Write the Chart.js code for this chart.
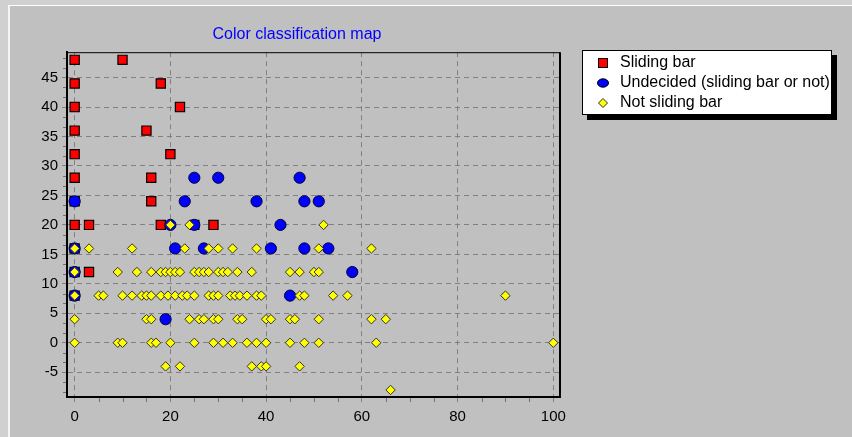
<!DOCTYPE html>
<html>
<head>
<meta charset="utf-8">
<script src="https://cdn.jsdelivr.net/npm/chart.js@4.4.1/dist/chart.umd.min.js"></script>
<style>
  html, body { margin: 0; padding: 0; background: #d0d0d0; }
  #wrap { position: relative; width: 852px; height: 437px; overflow: hidden; background: #d0d0d0; }
  #frame { position: absolute; left: 8px; top: 5px; width: 860px; height: 450px; background: #c0c0c0;
           border-top: 1px solid #ffffff; border-left: 2px solid #f4f4f4; }
  canvas { position: absolute; left: 0; top: 0; }
</style>
</head>
<body>
<div id="wrap">
  <div id="frame"></div>
  <canvas id="chart" width="852" height="437"></canvas>
</div>
<script>
var seriesNames = ['Sliding bar', 'Undecided (sliding bar or not)', 'Not sliding bar'];
var xTicks = [0, 20, 40, 60, 80, 100];
var yTicks = [-5, 0, 5, 10, 15, 20, 25, 30, 35, 40, 45];

// Sliding bar (red squares)
var slidingX = [0, 10, 0, 18, 0, 22, 0, 15, 0, 20, 0, 16, 0, 16, 0, 3, 18, 25, 29, 0, 0, 3, 0];
var slidingY = [48, 48, 44, 44, 40, 40, 36, 36, 32, 32, 28, 28, 24, 24, 20, 20, 20, 20, 20, 16, 12, 12, 8];

// Undecided (blue circles)
var undecidedX = [25, 30, 47, 0, 23, 38, 48, 51, 20, 25, 43, 0, 21, 27, 41, 48, 53, 0, 58, 0, 45, 19];
var undecidedY = [28, 28, 28, 24, 24, 24, 24, 24, 20, 20, 20, 16, 16, 16, 16, 16, 16, 12, 12, 8, 8, 4];

// Not sliding bar (yellow diamonds), one line per row
var notSlidingX = [
  20, 24, 52,
  0, 3, 12, 23, 28, 30, 33, 38, 51, 62,
  0, 9, 13, 16, 18, 19, 20, 21, 22, 25, 26, 27, 28, 30, 31, 32, 34, 37, 45, 47, 50, 51,
  0, 5, 6, 10, 12, 14, 15, 16, 18, 19.5, 21, 22.5, 23.5, 25, 28, 29, 30, 32.5, 33.5, 34.5, 36, 38, 39, 47, 48, 54, 57, 90,
  0, 15, 16, 24, 26, 27, 29, 30, 34, 35, 40, 41, 45, 46, 51, 62, 65,
  0, 9, 10, 16, 17, 20, 25, 29, 31, 33, 36, 38, 40, 45, 48, 51, 63, 100,
  19, 22, 37, 39, 40, 47,
  66
];
var notSlidingY = [
  20, 20, 20,
  16, 16, 16, 16, 16, 16, 16, 16, 16, 16,
  12, 12, 12, 12, 12, 12, 12, 12, 12, 12, 12, 12, 12, 12, 12, 12, 12, 12, 12, 12, 12, 12,
  8, 8, 8, 8, 8, 8, 8, 8, 8, 8, 8, 8, 8, 8, 8, 8, 8, 8, 8, 8, 8, 8, 8, 8, 8, 8, 8, 8,
  4, 4, 4, 4, 4, 4, 4, 4, 4, 4, 4, 4, 4, 4, 4, 4, 4,
  0, 0, 0, 0, 0, 0, 0, 0, 0, 0, 0, 0, 0, 0, 0, 0, 0, 0,
  -4, -4, -4, -4, -4, -4,
  -8
];

function toPoints(xs, ys) {
  return xs.map(function (x, i) { return { x: x, y: ys[i] }; });
}

var FONT = 'Liberation Sans, Arial, sans-serif';

// top + right frame of the plot box, minor ticks
var framePlugin = {
  id: 'frame',
  beforeDatasetsDraw: function (chart) {
    var ctx = chart.ctx, a = chart.chartArea, sx = chart.scales.x, sy = chart.scales.y;
    ctx.save();
    ctx.strokeStyle = '#000';
    ctx.lineWidth = 1;
    ctx.beginPath();
    ctx.moveTo(a.left, a.top + 0.5);
    ctx.lineTo(a.right, a.top + 0.5);
    ctx.stroke();
    ctx.lineWidth = 2;
    ctx.beginPath();
    ctx.moveTo(a.right, a.top);
    ctx.lineTo(a.right, a.bottom);
    ctx.stroke();

    ctx.strokeStyle = '#707070';
    ctx.lineWidth = 1;
    ctx.beginPath();
    for (var v = 5; v < 100; v += 5) {
      if (v % 20 === 0) continue;
      var px = Math.round(sx.getPixelForValue(v)) + 0.5;
      ctx.moveTo(px, a.bottom + 1);
      ctx.lineTo(px, a.bottom + 5);
    }
    for (var k = -10; k <= 45; k += 5) {
      [5 / 3, 10 / 3].forEach(function (f) {
        var val = k + f;
        if (val <= sy.min || val >= sy.max) return;
        var py = Math.round(sy.getPixelForValue(val)) + 0.5;
        ctx.moveTo(a.left - 4, py);
        ctx.lineTo(a.left - 1, py);
      });
    }
    ctx.stroke();
    ctx.restore();
  }
};

// boxed legend with drop shadow
var legendPlugin = {
  id: 'boxLegend',
  afterDraw: function (chart) {
    var ctx = chart.ctx;
    var bx = 582, by = 50, bw = 250, bh = 65;
    ctx.save();
    ctx.fillStyle = '#000';
    ctx.fillRect(bx + 5, by + 5, bw, bh);
    ctx.fillStyle = '#fff';
    ctx.fillRect(bx, by, bw, bh);
    ctx.strokeStyle = '#000';
    ctx.lineWidth = 1;
    ctx.strokeRect(bx + 0.5, by + 0.5, bw - 1, bh - 1);

    var ds = chart.data.datasets;
    var mx = 603;
    var rows = [63, 83, 103];
    // square
    ctx.fillStyle = ds[0].backgroundColor;
    ctx.fillRect(mx - 4.5, rows[0] - 4.5, 9, 9);
    ctx.strokeRect(mx - 4.5, rows[0] - 4.5, 9, 9);
    // rounded blob
    ctx.fillStyle = ds[1].backgroundColor;
    ctx.beginPath();
    ctx.ellipse(mx, rows[1], 5.5, 4.2, 0, 0, Math.PI * 2);
    ctx.fill();
    ctx.stroke();
    // diamond
    ctx.fillStyle = ds[2].backgroundColor;
    ctx.beginPath();
    ctx.moveTo(mx, rows[2] - 4.5);
    ctx.lineTo(mx + 4.5, rows[2]);
    ctx.lineTo(mx, rows[2] + 4.5);
    ctx.lineTo(mx - 4.5, rows[2]);
    ctx.closePath();
    ctx.fill();
    ctx.strokeStyle = ds[2].borderColor;
    ctx.stroke();

    ctx.fillStyle = '#000';
    ctx.font = '16px ' + FONT;
    ctx.textBaseline = 'middle';
    ctx.textAlign = 'left';
    ds.forEach(function (d, i) { ctx.fillText(d.label, 620, rows[i]); });
    ctx.restore();
  }
};

new Chart(document.getElementById('chart').getContext('2d'), {
  type: 'scatter',
  data: {
    datasets: [{
      label: seriesNames[0],
      data: toPoints(slidingX, slidingY),
      pointStyle: 'rect',
      pointRadius: 6.5,
      backgroundColor: '#ff0000',
      borderColor: '#000000',
      borderWidth: 1.2,
      order: 2
    }, {
      label: seriesNames[1],
      data: toPoints(undecidedX, undecidedY),
      pointStyle: 'circle',
      pointRadius: 5.6,
      backgroundColor: '#0000ff',
      borderColor: '#000033',
      borderWidth: 1,
      order: 1
    }, {
      label: seriesNames[2],
      data: toPoints(notSlidingX, notSlidingY),
      pointStyle: 'rectRot',
      pointRadius: 4.7,
      backgroundColor: '#ffff00',
      borderColor: '#303030',
      borderWidth: 1,
      order: 0
    }]
  },
  options: {
    responsive: false,
    animation: false,
    devicePixelRatio: 1,
    events: [],
    layout: { padding: { left: 34, right: 292, top: 0, bottom: 0 } },
    plugins: {
      legend: { display: false },
      tooltip: { enabled: false },
      title: {
        display: true,
        text: 'Color classification map',
        color: '#0000ff',
        font: { family: FONT, size: 16, weight: 'normal' },
        padding: { top: 25, bottom: 8 }
      }
    },
    scales: {
      x: {
        type: 'linear',
        min: -1.6,
        max: 101.4,
        afterBuildTicks: function (s) { s.ticks = xTicks.map(function (v) { return { value: v }; }); },
        afterFit: function (s) { s.height = 40; },
        grid: { color: '#808080', lineWidth: 1, tickLength: 5, tickColor: '#808080' },
        border: { display: true, color: '#000', width: 2, dash: [5, 4] },
        ticks: { color: '#000', padding: 6, font: { family: FONT, size: 15 }, maxRotation: 0 }
      },
      y: {
        type: 'linear',
        min: -9.2,
        max: 49.3,
        afterBuildTicks: function (s) { s.ticks = yTicks.map(function (v) { return { value: v }; }); },
        afterFit: function (s) { s.width = 33; },
        grid: { color: '#808080', lineWidth: 1, tickLength: 5, tickColor: '#808080' },
        border: { display: true, color: '#000', width: 2, dash: [5, 4] },
        ticks: { color: '#000', padding: 4, font: { family: FONT, size: 15 } }
      }
    }
  },
  plugins: [framePlugin, legendPlugin]
});
</script>
</body>
</html>
